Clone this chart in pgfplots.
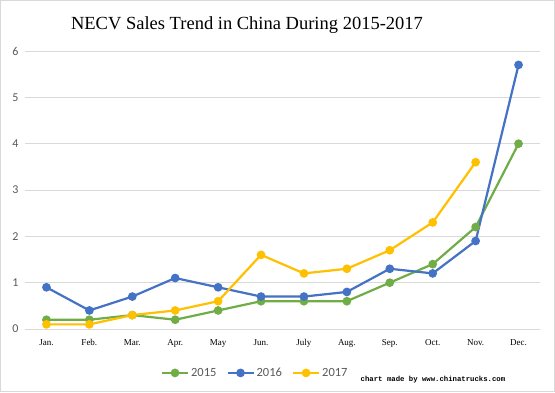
\documentclass[border=0pt]{standalone}
\usepackage{pgfplots}
\pgfplotsset{compat=1.18}
\usepackage{fontspec}
\setmainfont{Liberation Serif}
\newfontfamily\carlito{Carlito}
\newfontfamily\monof{Liberation Mono}
\definecolor{cg}{HTML}{70AD47}
\definecolor{cb}{HTML}{4472C4}
\definecolor{cy}{HTML}{FFC000}
\definecolor{gridc}{HTML}{D9D9D9}
\definecolor{tickc}{HTML}{595959}
\begin{document}
\begin{tikzpicture}[x=1pt,y=1pt]
\fill[white] (0,0) rectangle (555,392);
\draw[gridc, line width=1pt] (0.5,0.5) rectangle (554.5,391.5);
\node[font=\fontsize{18.5}{22}\selectfont] at (247,367) {NECV Sales Trend in China During 2015-2017};
\node[font=\monof\bfseries\fontsize{7.3}{8}\selectfont, anchor=center] at (433,12) {chart made by www.chinatrucks.com};
\begin{axis}[
  at={(25pt,63pt)}, anchor=south west,
  scale only axis, width=515pt, height=278pt,
  xmin=-0.5, xmax=11.5, ymin=0, ymax=6,
  xtick={0,...,11},
  xticklabels={Jan.,Feb.,Mar.,Apr.,May,Jun.,July,Aug.,Sep.,Oct.,Nov.,Dec.},
  ytick={0,1,...,6},
  axis line style={draw=none},
  major tick length=0pt,
  ymajorgrids, grid style={gridc, line width=0.8pt},
  xticklabel style={font=\fontsize{9}{10}\selectfont, yshift=-7pt},
  yticklabel style={font=\carlito\fontsize{12}{13}\selectfont, text=tickc, xshift=-3pt},
  /pgf/number format/assume math mode=true,
  every axis plot/.append style={line width=2.2pt, mark=*, mark size=3.2pt, mark options={solid}},
  legend style={at={(0.447,-0.158)}, anchor=center, draw=none, legend columns=3,
    font=\carlito\fontsize{12.5}{14}\selectfont, text=tickc,
    /tikz/every even column/.append style={column sep=8pt}},
  legend image code/.code={\draw[#1] (0pt,0pt) -- (26pt,0pt); \draw[#1, mark repeat=1] plot coordinates {(13pt,0pt)};},
]
\addplot[cg] coordinates {(0,0.2)(1,0.2)(2,0.3)(3,0.2)(4,0.4)(5,0.6)(6,0.6)(7,0.6)(8,1.0)(9,1.4)(10,2.2)(11,4.0)};
\addlegendentry{2015}
\addplot[cb] coordinates {(0,0.9)(1,0.4)(2,0.7)(3,1.1)(4,0.9)(5,0.7)(6,0.7)(7,0.8)(8,1.3)(9,1.2)(10,1.9)(11,5.7)};
\addlegendentry{2016}
\addplot[cy] coordinates {(0,0.1)(1,0.1)(2,0.3)(3,0.4)(4,0.6)(5,1.6)(6,1.2)(7,1.3)(8,1.7)(9,2.3)(10,3.6)};
\addlegendentry{2017}
\end{axis}
\end{tikzpicture}
\end{document}
